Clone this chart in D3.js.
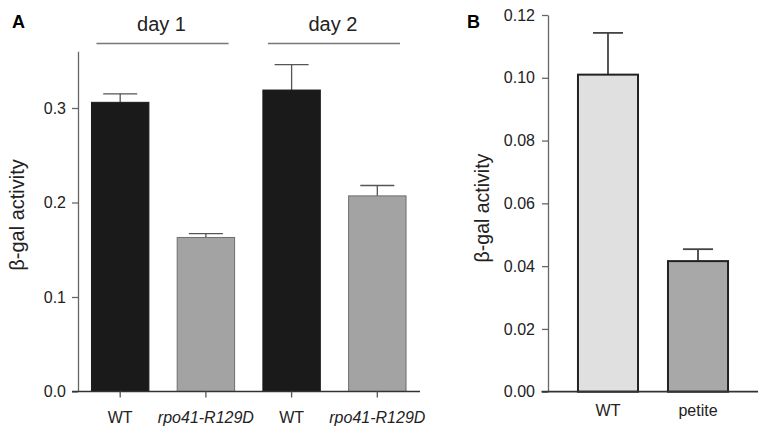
<!DOCTYPE html>
<html>
<head>
<meta charset="utf-8">
<script src="https://cdn.jsdelivr.net/npm/d3@7"></script>
<style>
  body { margin: 0; background: #fff; }
  text { font-family: "Liberation Sans", Arial, Helvetica, sans-serif; }
</style>
</head>
<body>
<div class="chart"></div>
<script>
// panel A data
const a_groups = ["day 1", "day 2"]
const a_categories = ["WT", "rpo41-R129D", "WT ", "rpo41-R129D "]
const a_values = [0.306, 0.163, 0.319, 0.207]
const a_errors = [0.009, 0.004, 0.027, 0.011]
const a_ticks = [0.0, 0.1, 0.2, 0.3]

// panel B data
const b_categories = ["WT", "petite"]
const b_values = [0.101, 0.0416]
const b_errors = [0.0133, 0.0038]
const b_ticks = [0.00, 0.02, 0.04, 0.06, 0.08, 0.10, 0.12]

const width = 768;
const height = 435;
const svg = d3.select(".chart").append("svg").attr("width", width).attr("height", height)
const font = "'Liberation Sans', Arial, sans-serif"

// ---------- panel A ----------
const ax = d3.scaleBand().domain(a_categories).range([77.5, 420]).paddingInner(0.33).paddingOuter(0.163);
const ay = d3.scaleLinear().domain([0, 0.36]).range([391.5, 51.3]);

const a_colors = ["#1a1a1a", "#a3a3a3", "#1a1a1a", "#a3a3a3"]
const a_strokes = ["#1a1a1a", "#6e6e6e", "#1a1a1a", "#6e6e6e"]

const a_data = a_categories.map((c, i) => ({cat: c, value: a_values[i], err: a_errors[i], i: i}))

// error bars (drawn first, bars cover the lower half)
const aerr = svg.append("g").attr("stroke", "#555").attr("stroke-width", 1.3)
aerr.selectAll("line.v").data(a_data).join("line")
    .attr("x1", d => ax(d.cat) + ax.bandwidth() / 2)
    .attr("x2", d => ax(d.cat) + ax.bandwidth() / 2)
    .attr("y1", d => ay(d.value))
    .attr("y2", d => ay(d.value + d.err))
aerr.selectAll("line.c").data(a_data).join("line")
    .attr("x1", d => ax(d.cat) + ax.bandwidth() / 2 - 17)
    .attr("x2", d => ax(d.cat) + ax.bandwidth() / 2 + 17)
    .attr("y1", d => ay(d.value + d.err))
    .attr("y2", d => ay(d.value + d.err))

svg.append("g").selectAll("rect").data(a_data).join("rect")
    .attr("x", d => ax(d.cat))
    .attr("y", d => ay(d.value))
    .attr("width", ax.bandwidth())
    .attr("height", d => ay(0) - ay(d.value))
    .attr("fill", d => a_colors[d.i])
    .attr("stroke", d => a_strokes[d.i])
    .attr("stroke-width", 1)

// y axis
const a_yaxis = svg.append("g").attr("transform", "translate(78,0)")
    .call(d3.axisLeft(ay).tickValues(a_ticks).tickFormat(d3.format(".1f")).tickSize(6).tickSizeOuter(0))
a_yaxis.select(".domain").attr("stroke", "#666").attr("stroke-width", 1.3)
a_yaxis.selectAll(".tick line").attr("stroke", "#666").attr("stroke-width", 1.3)
a_yaxis.selectAll(".tick text").attr("font-size", 16).attr("fill", "#222").attr("x", -12)
    .style("font-family", font)

// x axis
const a_xaxis = svg.append("g").attr("transform", "translate(0,391.5)")
    .call(d3.axisBottom(ax).tickSize(6).tickSizeOuter(0))
a_xaxis.select(".domain").attr("d", "M72,0H420").attr("stroke", "#333").attr("stroke-width", 1.5)
a_xaxis.selectAll(".tick line").attr("stroke", "#555").attr("stroke-width", 1.3)
a_xaxis.selectAll(".tick text").attr("font-size", 16).attr("fill", "#222").attr("y", 20)
    .style("font-family", font)
    .style("font-style", d => d.startsWith("rpo") ? "italic" : "normal")
    .text(d => d.trim())

// group labels
const group_lines = a_groups.map((g, i) => ({
    label: g,
    x1: ax(a_categories[i * 2]) + 5,
    x2: ax(a_categories[i * 2 + 1]) + ax.bandwidth() - 6
}))
svg.append("g").selectAll("line").data(group_lines).join("line")
    .attr("x1", d => d.x1).attr("x2", d => d.x2)
    .attr("y1", 43.5).attr("y2", 43.5)
    .attr("stroke", "#777").attr("stroke-width", 1.5)
svg.append("g").selectAll("text").data(group_lines).join("text")
    .attr("x", d => (d.x1 + d.x2) / 2 - 1)
    .attr("y", 31)
    .attr("text-anchor", "middle")
    .attr("font-size", 20)
    .attr("fill", "#222")
    .text(d => d.label)

svg.append("text").attr("x", 12).attr("y", 27.5).attr("font-size", 18).attr("font-weight", "bold").text("A")
svg.append("text")
    .attr("transform", "translate(24,215) rotate(-90)")
    .attr("text-anchor", "middle")
    .attr("font-size", 20)
    .attr("fill", "#222")
    .text("β-gal activity")

// ---------- panel B ----------
const bx = d3.scaleBand().domain(b_categories).range([548, 758]).paddingInner(0.333).paddingOuter(0.333);
const by = d3.scaleLinear().domain([0, 0.12]).range([391.7, 15]);

const b_colors = ["#e0e0e0", "#a8a8a8"]
const b_data = b_categories.map((c, i) => ({cat: c, value: b_values[i], err: b_errors[i], i: i}))

const berr = svg.append("g").attr("stroke", "#444").attr("stroke-width", 1.8)
berr.selectAll("line.v").data(b_data).join("line")
    .attr("x1", d => bx(d.cat) + bx.bandwidth() / 2)
    .attr("x2", d => bx(d.cat) + bx.bandwidth() / 2)
    .attr("y1", d => by(d.value))
    .attr("y2", d => by(d.value + d.err))
berr.selectAll("line.c").data(b_data).join("line")
    .attr("x1", d => bx(d.cat) + bx.bandwidth() / 2 - 15)
    .attr("x2", d => bx(d.cat) + bx.bandwidth() / 2 + 15)
    .attr("y1", d => by(d.value + d.err))
    .attr("y2", d => by(d.value + d.err))

svg.append("g").selectAll("rect").data(b_data).join("rect")
    .attr("x", d => bx(d.cat))
    .attr("y", d => by(d.value))
    .attr("width", bx.bandwidth())
    .attr("height", d => by(0) - by(d.value))
    .attr("fill", d => b_colors[d.i])
    .attr("stroke", "#222")
    .attr("stroke-width", 2)

const b_yaxis = svg.append("g").attr("transform", "translate(548,0)")
    .call(d3.axisLeft(by).tickValues(b_ticks).tickFormat(d3.format(".2f")).tickSize(6).tickSizeOuter(0))
b_yaxis.select(".domain").attr("stroke", "#666").attr("stroke-width", 1.3)
b_yaxis.selectAll(".tick line").attr("stroke", "#666").attr("stroke-width", 1.3)
b_yaxis.selectAll(".tick text").attr("font-size", 16).attr("fill", "#222").attr("x", -13)
    .style("font-family", font)

const b_xaxis = svg.append("g").attr("transform", "translate(0,391.7)")
    .call(d3.axisBottom(bx).tickSize(0).tickSizeOuter(0))
b_xaxis.select(".domain").attr("d", "M541.5,0H758").attr("stroke", "#333").attr("stroke-width", 1.8)
b_xaxis.selectAll(".tick text").attr("font-size", 16).attr("fill", "#222").attr("y", 13)
    .style("font-family", font)

svg.append("text").attr("x", 467).attr("y", 27.5).attr("font-size", 18).attr("font-weight", "bold").text("B")
svg.append("text")
    .attr("transform", "translate(489,208) rotate(-90)")
    .attr("text-anchor", "middle")
    .attr("font-size", 19.5)
    .attr("fill", "#222")
    .text("β-gal activity")
</script>
</body>
</html>
